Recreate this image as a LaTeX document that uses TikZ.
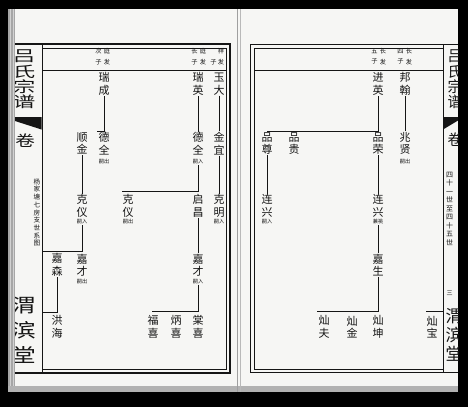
\documentclass[tikz,border=0pt]{standalone}
\usepackage{fontspec}
\newfontfamily\cjk{Noto Sans CJK SC}
\definecolor{inkc}{HTML}{151515}
\definecolor{paper}{HTML}{F6F6F4}
\begin{document}
\begin{tikzpicture}[x=1pt,y=-1pt,
  ink/.style={draw=inkc, line width=0.7pt},
  thick frame/.style={draw=inkc, line width=1.5pt},
  thin frame/.style={draw=inkc, line width=0.55pt},
  nm/.style={font=\cjk\fontsize{11}{12.5}\selectfont, align=center, inner sep=0.6pt, text=inkc},
  nt/.style={font=\cjk\fontsize{5.2}{5.2}\selectfont, inner sep=0.5pt, text=inkc},
  hd/.style={font=\cjk\fontsize{6.2}{10.5}\selectfont, align=center, inner sep=0pt, text=inkc},
  fold/.style={font=\cjk\fontsize{15}{15}\selectfont, inner sep=0pt, text=inkc},
  hall/.style={font=\cjk\fontsize{19}{19}\selectfont, inner sep=0pt, text=inkc},
  tiny/.style={font=\cjk\fontsize{6.6}{7.7}\selectfont, align=center, inner sep=0pt, text=inkc},
  tinyR/.style={font=\cjk\fontsize{7}{8.5}\selectfont, align=center, inner sep=0pt, text=inkc}]
\useasboundingbox (0,0) rectangle (468,407);
% paper and dark surround
\fill[paper] (0,0) rectangle (468,407);
\fill[black] (0,0) rectangle (468,9);
\fill[black] (0,0) rectangle (8,407);
\fill[black] (458,0) rectangle (468,407);
\fill[black] (0,392) rectangle (468,407);
\fill[gray!70] (8,9) rectangle (15,392);
\draw[gray!35, line width=0.6pt] (10.5,9) -- (10.5,392) (13,9) -- (13,392);
\fill[gray!60] (8,386) rectangle (458,392);
\draw[gray!75, line width=1pt] (237,9) -- (237,392);
\draw[gray!55, line width=0.5pt] (240,9) -- (240,392);

% ---------- left page frame ----------
\draw[thick frame] (15,44) -- (230,44) -- (230,373) -- (15,373);
\draw[thin frame] (42,48) -- (226.5,48) -- (226.5,369.5) -- (42,369.5);
\draw[thin frame] (42,44) -- (42,373);
\draw[thin frame] (42,70) -- (226.5,70);
% ---------- right page frame ----------
\draw[thick frame] (458,44.5) -- (250.5,44.5) -- (250.5,372.5) -- (458,372.5);
\draw[thin frame] (443,48) -- (254,48) -- (254,369) -- (443,369);
\draw[thin frame] (443,44.5) -- (443,372.5);
\draw[thin frame] (254,70) -- (443,70);

% ---------- fold columns ----------
\begin{scope}
  \clip (15,9) rectangle (41.5,392);
  \foreach \c [count=\i] in {吕,氏,宗,谱}
    \node[fold] (fL\i) at (24,41.5+15*\i) {\scalebox{1.5}[1]{\c}};
  \node[fold] (fLj) at (25,141) {\scalebox{1.3}[1]{卷}};
  \foreach \c [count=\i] in {渭,滨,堂}
    \node[hall] (hL\i) at (24,280+25*\i) {\scalebox{1.3}[1]{\c}};
  \fill[inkc] (15,117) -- (41.5,117) -- (41.5,129.5) -- (15,121) -- cycle;
\end{scope}
\node[tiny] (fLt) at (37,212.5) {杨\\家\\塘\\七\\房\\支\\世\\系\\图};
\begin{scope}
  \clip (443,9) rectangle (458,392);
  \foreach \c [count=\i] in {吕,氏,宗,谱}
    \node[fold] (fR\i) at (455,41.5+15*\i) {\c};
  \node[fold] (fRj) at (455,140) {卷};
  \foreach \c [count=\i] in {渭,滨,堂}
    \node[hall, font=\cjk\fontsize{17}{17}\selectfont] (hR\i) at (454,297+19*\i) {\c};
  \fill[inkc] (443,117) -- (458,117) -- (458,120.5) -- (443,129.5) -- cycle;
\end{scope}
\node[tinyR] (fRt) at (449.5,208.5) {四\\十\\一\\世\\至\\四\\十\\五\\世};
\node[tinyR, font=\cjk\fontsize{6}{6}\selectfont] (fRp) at (449.5,293) {三};

% ---------- headers ----------
\node[hd] (h1a) at (221,56.5) {祥\\发};
\node[hd] (h1b) at (213.5,62) {子};
\node[hd] (h2a) at (203,56.5) {庭\\发};
\node[hd] (h2b) at (194.5,56.5) {长\\子};
\node[hd] (h3a) at (107,56.5) {庭\\发};
\node[hd] (h3b) at (98.5,56.5) {次\\子};
\node[hd] (h4a) at (409,56.5) {长\\发};
\node[hd] (h4b) at (400.5,56.5) {四\\子};
\node[hd] (h5a) at (383,56.5) {长\\发};
\node[hd] (h5b) at (374.5,56.5) {五\\子};

% ---------- left page names ----------
\node[nm] (yuda) at (219,84) {玉\\大};
\node[nm] (ruiying) at (198,84) {瑞\\英};
\node[nm] (ruicheng) at (104,84) {瑞\\成};
\node[nm] (jinyi) at (219,143.5) {金\\宜};
\node[nm] (dequanR) at (198,143.5) {德\\全};
\node[nt] (nDQR) at (198,162) {嗣入};
\node[nm] (dequanL) at (104,143.5) {德\\全};
\node[nt] (nDQL) at (104,162) {嗣出};
\node[nm] (shunjin) at (82,143.5) {顺\\金};
\node[nm] (keming) at (219,206) {克\\明};
\node[nt] (nKM) at (219,222) {嗣入};
\node[nm] (qichang) at (198,206) {启\\昌};
\node[nm] (keyiM) at (128,206) {克\\仪};
\node[nt] (nKYM) at (128,222) {嗣出};
\node[nm] (keyiL) at (82,206) {克\\仪};
\node[nt] (nKYL) at (82,222) {嗣入};
\node[nm] (jiacaiR) at (198,265) {嘉\\才};
\node[nt] (nJCR) at (198,281.5) {嗣入};
\node[nm] (jiacaiL) at (82,265) {嘉\\才};
\node[nt] (nJCL) at (82,281.5) {嗣出};
\node[nm] (jiasen) at (57,265) {嘉\\森};
\node[nm] (tangxi) at (198,327) {棠\\喜};
\node[nm] (bingxi) at (176,327) {炳\\喜};
\node[nm] (fuxi) at (153,327) {福\\喜};
\node[nm] (honghai) at (57,327) {洪\\海};

% ---------- right page names ----------
\node[nm] (banghan) at (405,84) {邦\\翰};
\node[nm] (jinying) at (378,84) {进\\英};
\node[nm] (zhaoxian) at (405,143.5) {兆\\贤};
\node[nt] (nZX) at (405,162) {嗣出};
\node[nm] (pinrong) at (378,143.5) {品\\荣};
\node[nm] (pingui) at (294,143.5) {品\\贵};
\node[nm] (pinzun) at (267,143.5) {品\\尊};
\node[nm] (lianxingL) at (267,206) {连\\兴};
\node[nt] (nLXL) at (267,222) {嗣入};
\node[nm] (lianxingR) at (378,206) {连\\兴};
\node[nt] (nLXR) at (378,222) {兼祧};
\node[nm] (jiasheng) at (378,265) {嘉\\生};
\node[nm] (cankun) at (378,327) {灿\\坤};
\node[nm] (canjin) at (352,327) {灿\\金};
\node[nm] (canfu) at (324,327) {灿\\夫};
\node[nm] (canbao) at (432,327) {灿\\宝};

% ---------- bar coordinates ----------
\coordinate (barRC) at (97,131);
\coordinate (barDQ) at (122,191);
\coordinate (barKY) at (42,251);
\coordinate (barJS) at (42,312);
\coordinate (barJC) at (152,311);
\coordinate (barJY) at (267,131);
\coordinate (barJSh) at (317,311);
\coordinate (cbL) at (426,311);
\coordinate (cbR) at (443,311);

% ---------- connectors ----------
\draw[ink] (yuda.south) -- (jinyi.north);
\draw[ink] (jinyi.south) -- (keming.north);
\draw[ink] (ruiying.south) -- (dequanR.north);
\draw[ink] (nDQR.south) |- (barDQ);
\draw[ink] (qichang.south) -- (jiacaiR.north);
\draw[ink] (nJCR.south) |- (barJC);
\draw[ink] (ruicheng.south) |- (barRC);
\draw[ink] (shunjin.south) -- (keyiL.north);
\draw[ink] (nKYL.south) |- (barKY);
\draw[ink] (jiasen.south) |- (barJS);
\draw[ink] (banghan.south) -- (zhaoxian.north);
\draw[ink] (jinying.south) |- (barJY);
\draw[ink] (pinzun.south) -- (lianxingL.north);
\draw[ink] (pinrong.south) -- (lianxingR.north);
\draw[ink] (nLXR.south) -- (jiasheng.north);
\draw[ink] (jiasheng.south) |- (barJSh);
\draw[ink] (cbL) -- (cbR);
\end{tikzpicture}
\end{document}
